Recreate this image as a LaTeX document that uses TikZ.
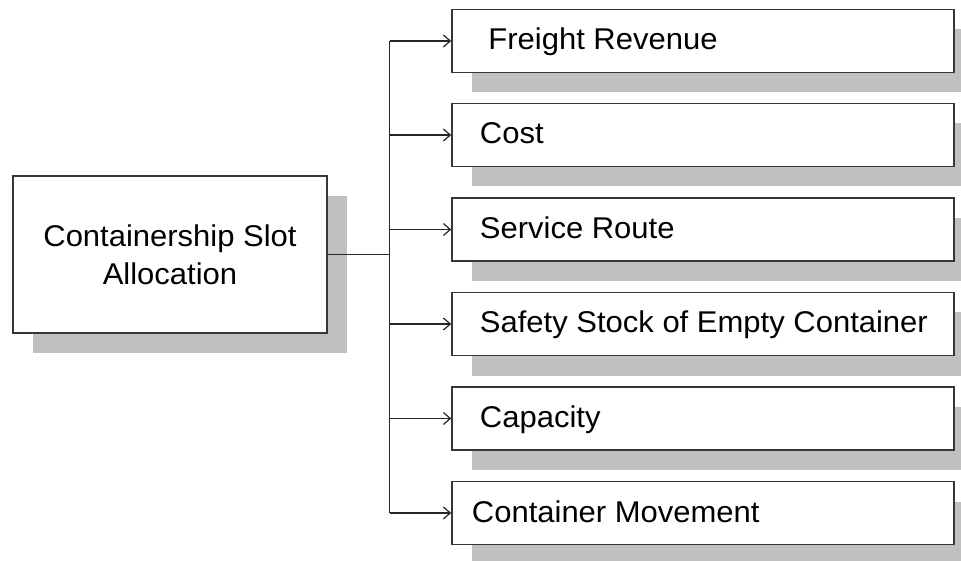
\documentclass[tikz,border=0pt]{standalone}
\usepackage{fontspec}
\setmainfont[FakeStretch=1.033]{Liberation Sans}
\usepackage{tikz}
\usetikzlibrary{arrows.meta,positioning,shadows}
\definecolor{boxline}{RGB}{55,55,55}
\definecolor{shadowgray}{RGB}{192,192,192}

\begin{document}
\begin{tikzpicture}[x=1pt, y=-1pt,
    box/.style={draw=boxline, line width=1.5pt, fill=white, inner sep=0pt,
        general shadow={fill=shadowgray, shadow xshift=20pt, shadow yshift=-20pt}},
    item/.style={box, minimum width=502pt, minimum height=63pt},
    lbl/.style={inner sep=0pt, font=\fontsize{30}{38}\selectfont, text height=18pt, text depth=0pt},
    link/.style={line width=1.3pt, draw=black!85},
    tip/.style={-{Straight Barb[length=7pt, width=12pt, line width=1.2pt]}}]
    \useasboundingbox (0,0) rectangle (961,561);

    % main box
    \node[box, minimum width=314pt, minimum height=157pt, align=center,
        font=\fontsize{30}{38}\selectfont] (csa) at (170,254.5)
        {Containership Slot\\Allocation};

    % factor boxes
    \node[item] (fr) at (703,41) {};
    \node[item] (cost) at (703,135) {};
    \node[item] (route) at (703,229.5) {};
    \node[item] (stock) at (703,324) {};
    \node[item] (cap) at (703,418.5) {};
    \node[item] (move) at (703,513) {};

    \node[lbl, right=37pt of fr.west] (frtxt) {Freight Revenue};
    \node[lbl, right=28.5pt of cost.west] (costtxt) {Cost};
    \node[lbl, right=28.5pt of route.west] (routetxt) {Service Route};
    \node[lbl, right=28.5pt of stock.west] (stocktxt) {Safety Stock of Empty Container};
    \node[lbl, right=28.5pt of cap.west] (captxt) {Capacity};
    \node[lbl, right=20.5pt of move.west] (movetxt) {Container Movement};

    % connectors
    \coordinate (trunk) at (389.5,254.5);
    \draw[link] (csa.east) -- (trunk);
    \draw[link] (trunk |- fr.west) -- (trunk |- move.west);
    \foreach \b in {fr,cost,route,stock,cap,move}
        \draw[link, tip] (trunk |- \b.west) -- (\b.west);
\end{tikzpicture}
\end{document}
